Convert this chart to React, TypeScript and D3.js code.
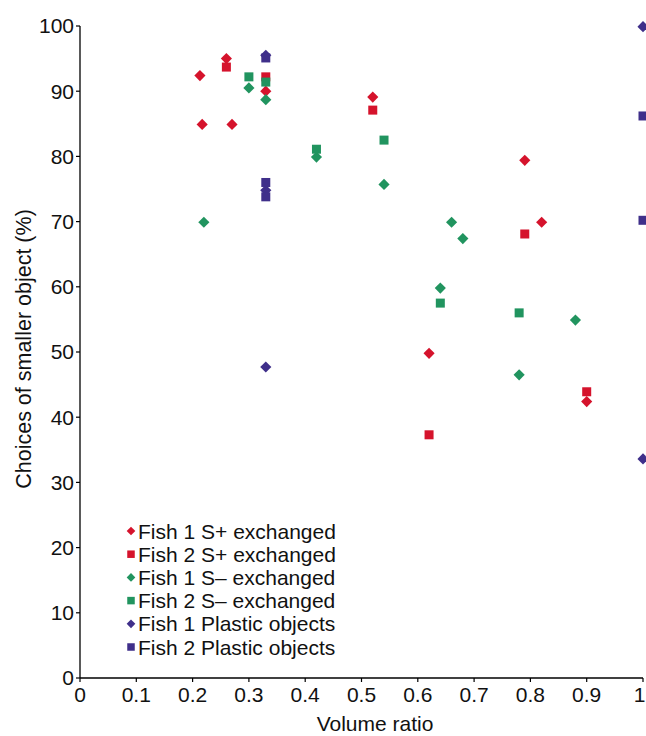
import React from "react";
import * as d3 from "d3";

const fish1SPlusX = [0.213, 0.217, 0.26, 0.27, 0.33, 0.52, 0.79, 0.82, 0.62, 0.90];
const fish1SPlusY = [92.4, 84.9, 95.0, 84.9, 90.0, 89.1, 79.4, 69.9, 49.8, 42.4];
const fish2SPlusX = [0.26, 0.33, 0.52, 0.79, 0.62, 0.90];
const fish2SPlusY = [93.7, 92.2, 87.1, 68.1, 37.3, 43.9];
const fish1SMinusX = [0.30, 0.33, 0.22, 0.42, 0.54, 0.66, 0.68, 0.64, 0.78, 0.88];
const fish1SMinusY = [90.5, 88.7, 69.9, 79.9, 75.7, 69.9, 67.4, 59.8, 46.5, 54.9];
const fish2SMinusX = [0.30, 0.33, 0.42, 0.54, 0.64, 0.78];
const fish2SMinusY = [92.2, 91.4, 81.1, 82.5, 57.5, 56.0];
const fish1PlasticX = [0.33, 0.33, 0.33, 1.0, 1.0];
const fish1PlasticY = [95.5, 74.8, 47.7, 99.9, 33.6];
const fish2PlasticX = [0.33, 0.33, 0.33, 1.0, 1.0];
const fish2PlasticY = [95.1, 76.0, 73.8, 86.2, 70.2];

const xTicks = [0, 0.1, 0.2, 0.3, 0.4, 0.5, 0.6, 0.7, 0.8, 0.9, 1];
const yTicks = [0, 10, 20, 30, 40, 50, 60, 70, 80, 90, 100];

const RED = "#d5132c";
const GREEN = "#21945f";
const PURPLE = "#3f2f8a";

const series = [
  { name: "Fish 1 S+ exchanged", xs: fish1SPlusX, ys: fish1SPlusY, color: RED, shape: "diamond" },
  { name: "Fish 2 S+ exchanged", xs: fish2SPlusX, ys: fish2SPlusY, color: RED, shape: "square" },
  { name: "Fish 1 S\u2013 exchanged", xs: fish1SMinusX, ys: fish1SMinusY, color: GREEN, shape: "diamond" },
  { name: "Fish 2 S\u2013 exchanged", xs: fish2SMinusX, ys: fish2SMinusY, color: GREEN, shape: "square" },
  { name: "Fish 1 Plastic objects", xs: fish1PlasticX, ys: fish1PlasticY, color: PURPLE, shape: "diamond" },
  { name: "Fish 2 Plastic objects", xs: fish2PlasticX, ys: fish2PlasticY, color: PURPLE, shape: "square" },
];

const W = 646;
const H = 736;
const x = d3.scaleLinear().domain([0, 1]).range([80, 643]);
const y = d3.scaleLinear().domain([0, 100]).range([678, 26]);
const FS = 21;

function Marker({ cx, cy, shape, color, size }: { cx: number; cy: number; shape: string; color: string; size: number }) {
  if (shape === "square") {
    return <rect x={cx - size / 2} y={cy - size / 2} width={size} height={size} fill={color} />;
  }
  const r = size * 0.62;
  return (
    <path d={`M${cx},${cy - r}L${cx + r},${cy}L${cx},${cy + r}L${cx - r},${cy}Z`} fill={color} />
  );
}

export default function App() {
  const font = "'Liberation Sans', Arial, Helvetica, sans-serif";
  return (
    <svg width={W} height={H} style={{ position: "absolute", left: 0, top: 0, background: "#fff" }} fontFamily={font}>
      <rect width={W} height={H} fill="#fff" />
      <line x1={x(0)} x2={x(0)} y1={y(100)} y2={y(0)} stroke="#000" strokeWidth={1.3} />
      <line x1={x(0)} x2={x(1)} y1={y(0)} y2={y(0)} stroke="#000" strokeWidth={1.3} />
      {yTicks.map((t) => (
        <g key={"y" + t}>
          <line x1={x(0) - 4} x2={x(0)} y1={y(t)} y2={y(t)} stroke="#000" strokeWidth={1.2} />
          <text x={x(0) - 6} y={y(t)} dy="0.35em" textAnchor="end" fontSize={FS} fill="#111">
            {t}
          </text>
        </g>
      ))}
      {xTicks.map((t, i) => {
        const last = i === xTicks.length - 1;
        return (
          <g key={"x" + t}>
            <line x1={x(t)} x2={x(t)} y1={y(0)} y2={y(0) + 4} stroke="#000" strokeWidth={1.2} />
            <text
              x={last ? W - 0.5 : x(t)}
              y={y(0) + 24}
              textAnchor={last ? "end" : "middle"}
              fontSize={FS}
              fill="#111"
            >
              {d3.format("")(t)}
            </text>
          </g>
        );
      })}
      <text x={375} y={731} textAnchor="middle" fontSize={FS} fill="#111">
        Volume ratio
      </text>
      <text
        transform={`translate(31,${y(50) - 3}) rotate(-90)`}
        textAnchor="middle"
        fontSize={21.5}
        fill="#111"
      >
        Choices of smaller object (%)
      </text>
      {series.map((s) =>
        s.xs.map((xv, i) => (
          <Marker key={s.name + i} cx={x(xv)} cy={y(s.ys[i])} shape={s.shape} color={s.color} size={9} />
        ))
      )}
      {series.map((s, i) => {
        const ly = 531 + i * 23.2;
        return (
          <g key={"lg" + i}>
            <Marker cx={131} cy={ly} shape={s.shape} color={s.color} size={s.shape === "square" ? 7.5 : 7} />
            <text x={138} y={ly} dy="0.36em" fontSize={FS} fill="#111">
              {s.name}
            </text>
          </g>
        );
      })}
    </svg>
  );
}
